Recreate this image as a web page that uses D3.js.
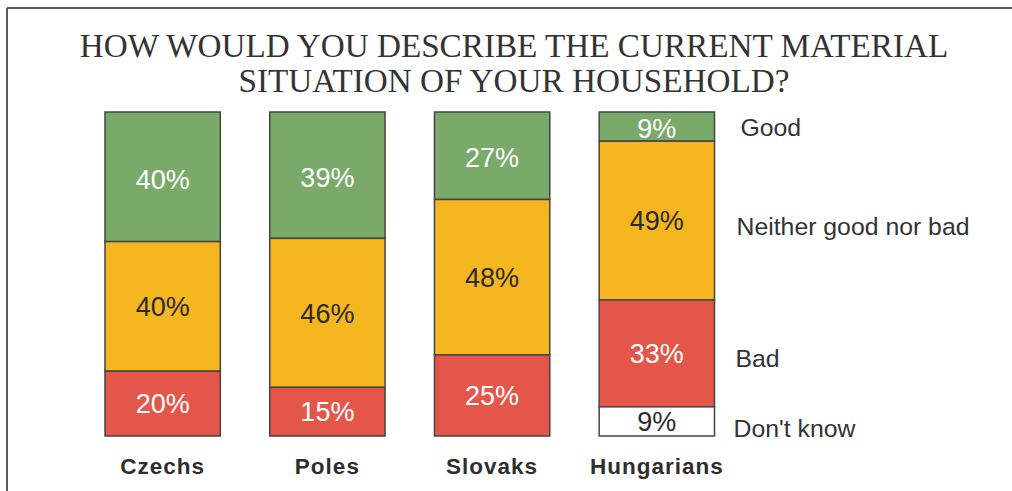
<!DOCTYPE html>
<html>
<head>
<meta charset="utf-8">
<script src="https://cdn.jsdelivr.net/npm/d3@7/dist/d3.min.js"></script>
<style>
  html, body { margin: 0; padding: 0; background: #fff; }
  svg { display: block; }
</style>
</head>
<body>
<svg id="chart" width="1012" height="491"></svg>
<script>
// Survey answers per nationality (percent of respondents)
const groups = ["Czechs", "Poles", "Slovaks", "Hungarians"];
const answers = ["Good", "Neither good nor bad", "Bad", "Don't know"];
const good    = [40, 39, 27, 9];
const neither = [40, 46, 48, 49];
const bad     = [20, 15, 25, 33];
const dontKnow = [0, 0, 0, 9];
const titleLines = ["HOW WOULD YOU DESCRIBE THE CURRENT MATERIAL", "SITUATION OF YOUR HOUSEHOLD?"];

const fills = ["#7aaa69", "#f5b61f", "#e4564a", "#ffffff"];
const labelInk = ["#ffffff", "#2b2b2b", "#ffffff", "#2b2b2b"];
// vertical nudge and left offset of each answer label beside the last bar
const answerNudge = [0, 6, 5, 7];
const answerIndent = [26, 22, 21, 19];

const svg = d3.select("#chart");
const W = 1012, H = 491;

// frame (top and left edges only visible)
svg.append("line").attr("x1", 7).attr("x2", W).attr("y1", 8).attr("y2", 8)
  .attr("stroke", "#5a5a5a").attr("stroke-width", 2);
svg.append("line").attr("x1", 7).attr("x2", 7).attr("y1", 8).attr("y2", H)
  .attr("stroke", "#5a5a5a").attr("stroke-width", 2);

// title
svg.append("g").selectAll("text").data(titleLines).join("text")
  .attr("x", 514)
  .attr("y", (d, i) => 57 + i * 35)
  .attr("text-anchor", "middle")
  .attr("font-family", "'Liberation Serif', 'Times New Roman', serif")
  .attr("font-size", 33.2)
  .attr("fill", "#333")
  .text(d => d);

const rows = groups.map((g, i) => ({
  group: g, Good: good[i], "Neither good nor bad": neither[i], Bad: bad[i], "Don't know": dontKnow[i]
}));
// stack from the top down: Good first
const stacked = d3.stack().keys(answers)(rows);

const x = d3.scaleBand().domain(groups).range([105, 714.5]).paddingInner(0.3).paddingOuter(0);
const y = d3.scaleLinear().domain([0, 100]).range([112, 436]);

const layers = svg.append("g").selectAll("g").data(stacked).join("g");

layers.selectAll("rect")
  .data((s, si) => s.map(d => ({ d, si, key: s.key })).filter(o => o.d[1] - o.d[0] > 0))
  .join("rect")
  .attr("x", o => x(o.d.data.group))
  .attr("width", x.bandwidth())
  .attr("y", o => y(o.d[0]))
  .attr("height", o => y(o.d[1]) - y(o.d[0]))
  .attr("fill", o => fills[o.si])
  .attr("stroke", "#444")
  .attr("stroke-width", 1.5);

layers.selectAll("text")
  .data((s, si) => s.map(d => ({ d, si, key: s.key })).filter(o => o.d[1] - o.d[0] > 0))
  .join("text")
  .attr("x", o => x(o.d.data.group) + x.bandwidth() / 2)
  .attr("y", o => (y(o.d[0]) + y(o.d[1])) / 2 + (o.si === 0 ? 2 : 0))
  .attr("dy", "0.36em")
  .attr("text-anchor", "middle")
  .attr("font-family", "'Liberation Sans', Arial, sans-serif")
  .attr("font-size", 27)
  .attr("fill", o => labelInk[o.si])
  .text(o => (o.d[1] - o.d[0]) + "%");

// category labels under the bars
svg.append("g").selectAll("text").data(groups).join("text")
  .attr("x", g => x(g) + x.bandwidth() / 2)
  .attr("y", 474)
  .attr("text-anchor", "middle")
  .attr("font-family", "'Liberation Sans', Arial, sans-serif")
  .attr("font-weight", "bold")
  .attr("font-size", 22.5)
  .attr("letter-spacing", 1)
  .attr("fill", "#2e2e2e")
  .text(g => g);

// answer labels beside the last bar
const last = groups[groups.length - 1];
svg.append("g").selectAll("text").data(stacked).join("text")
  .attr("x", (s, i) => x(last) + x.bandwidth() + answerIndent[i])
  .attr("y", (s, i) => { const d = s[s.length - 1]; return (y(d[0]) + y(d[1])) / 2 + answerNudge[i]; })
  .attr("dy", "0.36em")
  .attr("font-family", "'Liberation Sans', Arial, sans-serif")
  .attr("font-size", 24.8)
  .attr("fill", "#333")
  .text(s => s.key);
</script>
</body>
</html>
